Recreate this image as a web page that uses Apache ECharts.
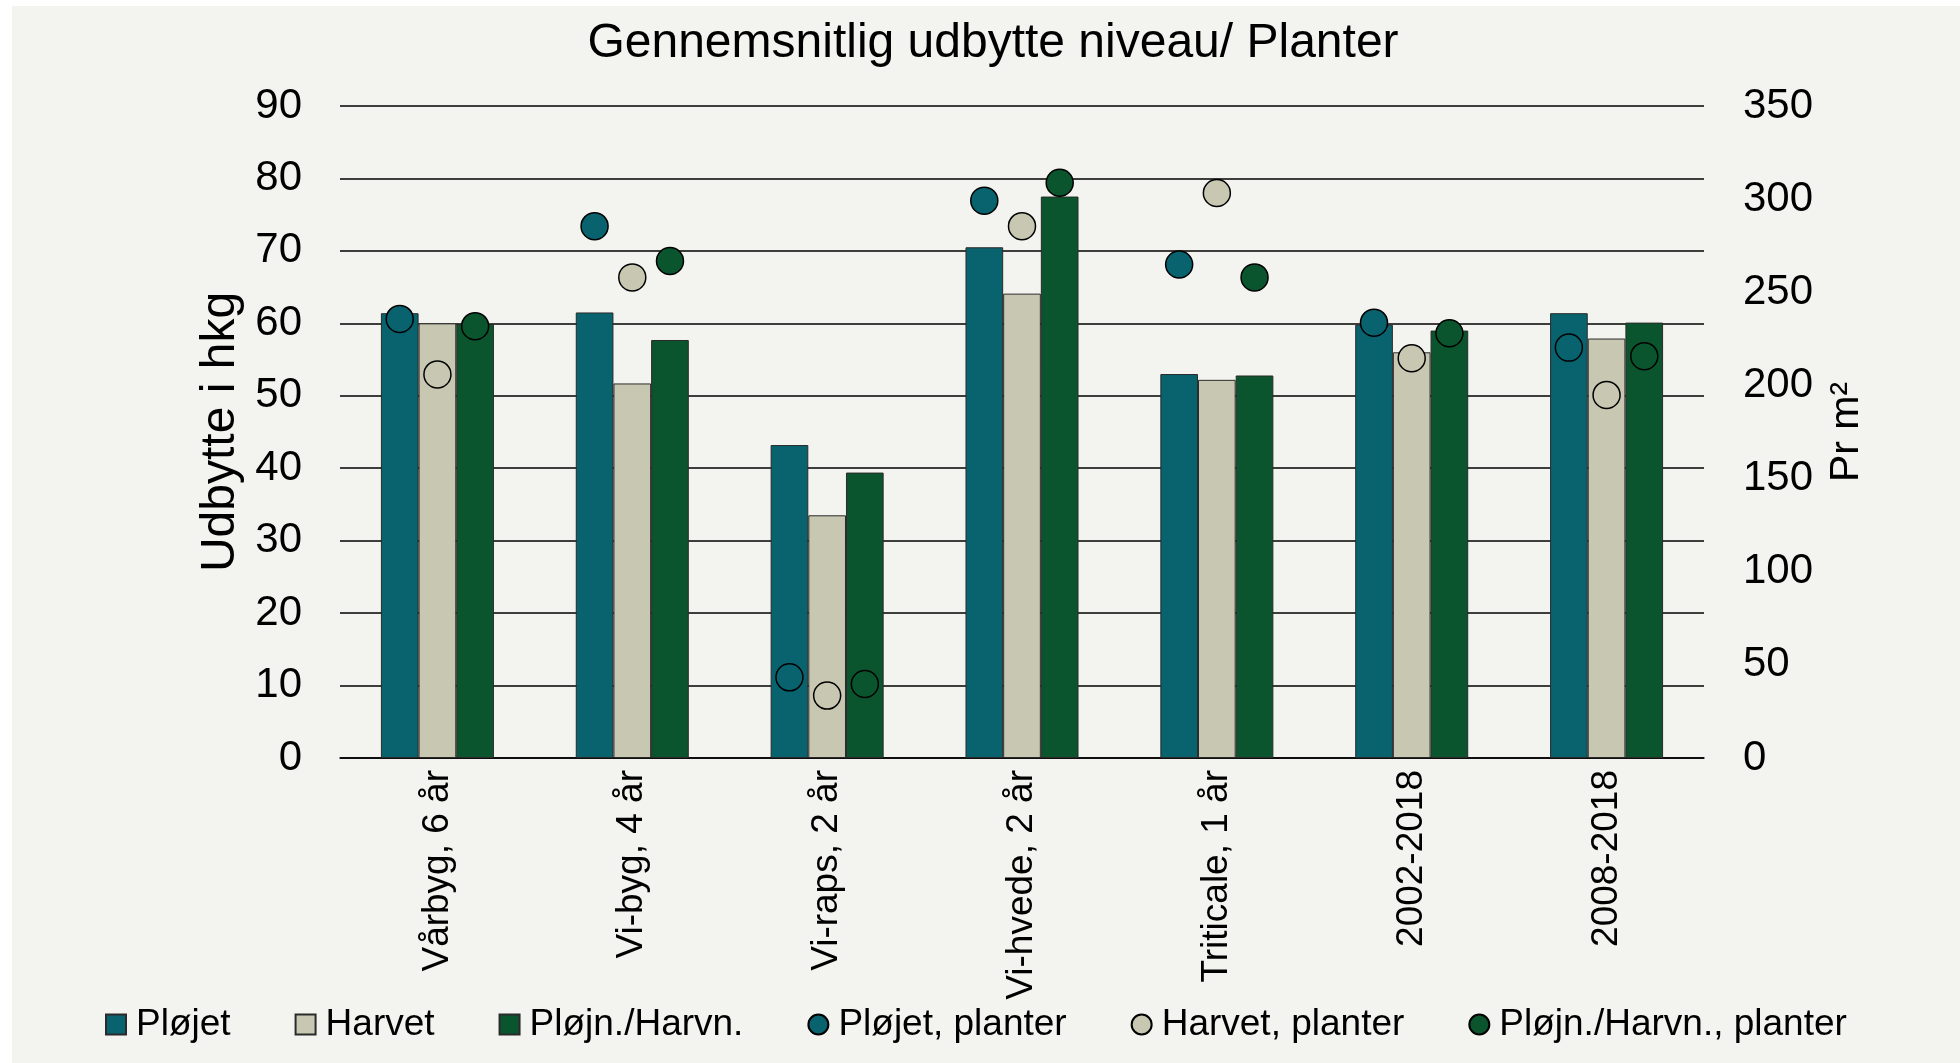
<!DOCTYPE html>
<html>
<head>
<meta charset="utf-8">
<title>Gennemsnitlig udbytte niveau/ Planter</title>
<script src="https://cdn.jsdelivr.net/npm/echarts@6/dist/echarts.min.js"></script>
<style>
  html, body { margin: 0; padding: 0; background: #ffffff; }
  #chart { width: 1960px; height: 1063px; }
</style>
</head>
<body>
<div id="chart"></div>
<script>
// categories and values
const categories = ["Vårbyg, 6 år", "Vi-byg, 4 år", "Vi-raps, 2 år", "Vi-hvede, 2 år", "Triticale, 1 år", "2002-2018", "2008-2018"];

// Udbytte i hkg (left axis)
const ploejet = [61.4, 61.5, 43.2, 70.5, 53.0, 59.8, 61.4];
const harvet = [60.0, 51.7, 33.5, 64.1, 52.2, 56.0, 57.9];
const ploejnHarvn = [59.9, 57.7, 39.4, 77.5, 52.8, 59.0, 60.1];

// planter pr m² (right axis)
const ploejetPlanter = [235.7, 285.5, 43.3, 299.2, 264.9, 233.7, 220.3];
const harvetPlanter = [205.9, 258.0, 33.5, 285.5, 303.3, 214.6, 194.9];
const ploejnHarvnPlanter = [231.8, 266.8, 39.7, 308.8, 258.0, 228.0, 215.7];

const FONT = "'Liberation Sans', Arial, sans-serif";
const TEAL = "#08636f";
const BEIGE = "#c8c8b2";
const GREEN = "#0b552e";
const BAR_W = 37.7;

const chart = echarts.init(document.getElementById("chart"), null, { renderer: "canvas" });

function barSeries(name, color, data) {
  return {
    name: name,
    type: "bar",
    yAxisIndex: 0,
    barGap: "0%",
    barCategoryGap: "42%",
    itemStyle: { color: color, borderColor: "#2a2a2a", borderWidth: 1 },
    data: data,
  };
}

function dotSeries(name, color, data, offset) {
  return {
    name: name,
    type: "scatter",
    yAxisIndex: 1,
    z: 5,
    symbol: "circle",
    symbolSize: 27,
    symbolOffset: [offset, 0],
    itemStyle: { color: color, borderColor: "#000", borderWidth: 1.5, opacity: 1 },
    data: data,
  };
}

const option = {
  animation: false,
  backgroundColor: "#ffffff",
  textStyle: { fontFamily: FONT, color: "#000" },
  graphic: [
    {
      type: "rect",
      z: -10,
      shape: { x: 12, y: 6, width: 1948, height: 1057 },
      style: { fill: "#f3f4ef" },
    },
  ],
  title: {
    text: "Gennemsnitlig udbytte niveau/ Planter",
    left: 988,
    textAlign: "center",
    top: 15,
    textStyle: { fontFamily: FONT, fontSize: 48, fontWeight: "normal", color: "#000" },
  },
  legend: {
    left: 105,
    top: 1006,
    padding: 0,
    itemWidth: 20,
    itemHeight: 20,
    itemGap: 64,
    textStyle: { fontFamily: FONT, fontSize: 37, color: "#000", padding: [0, 0, 0, 5] },
    data: [
      { name: "Pløjet", icon: "rect" },
      { name: "Harvet", icon: "rect" },
      { name: "Pløjn./Harvn.", icon: "rect" },
      { name: "Pløjet, planter", icon: "circle" },
      { name: "Harvet, planter", icon: "circle" },
      { name: "Pløjn./Harvn., planter", icon: "circle" },
    ],
  },
  grid: { left: 340, top: 106, width: 1364, height: 652 },
  xAxis: {
    type: "category",
    data: categories,
    axisLine: { lineStyle: { color: "#000", width: 1.5 } },
    axisTick: { length: 11, lineStyle: { color: "#000", width: 1.5 } },
    axisLabel: { rotate: 90, margin: 12, fontFamily: FONT, fontSize: 37, color: "#000" },
  },
  yAxis: [
    {
      type: "value",
      min: 0,
      max: 90,
      interval: 10,
      name: "Udbytte i hkg",
      nameLocation: "middle",
      nameGap: 88,
      nameTextStyle: { fontFamily: FONT, fontSize: 48, color: "#000" },
      axisLine: { show: false },
      axisTick: { show: false },
      axisLabel: { margin: 38, fontFamily: FONT, fontSize: 42, color: "#000" },
      splitLine: { lineStyle: { color: "#000", width: 1.6 } },
    },
    {
      type: "value",
      min: 0,
      max: 350,
      interval: 50,
      position: "right",
      name: "Pr m²",
      nameLocation: "middle",
      nameRotate: 90,
      nameGap: 122,
      nameTextStyle: { fontFamily: FONT, fontSize: 41, color: "#000" },
      axisLine: { show: false },
      axisTick: { show: false },
      axisLabel: { margin: 39, fontFamily: FONT, fontSize: 42, color: "#000" },
      splitLine: { show: false },
    },
  ],
  series: [
    barSeries("Pløjet", TEAL, ploejet),
    barSeries("Harvet", BEIGE, harvet),
    barSeries("Pløjn./Harvn.", GREEN, ploejnHarvn),
    dotSeries("Pløjet, planter", TEAL, ploejetPlanter, -BAR_W),
    dotSeries("Harvet, planter", BEIGE, harvetPlanter, 0),
    dotSeries("Pløjn./Harvn., planter", GREEN, ploejnHarvnPlanter, BAR_W),
  ],
};

chart.setOption(option);
</script>
</body>
</html>
